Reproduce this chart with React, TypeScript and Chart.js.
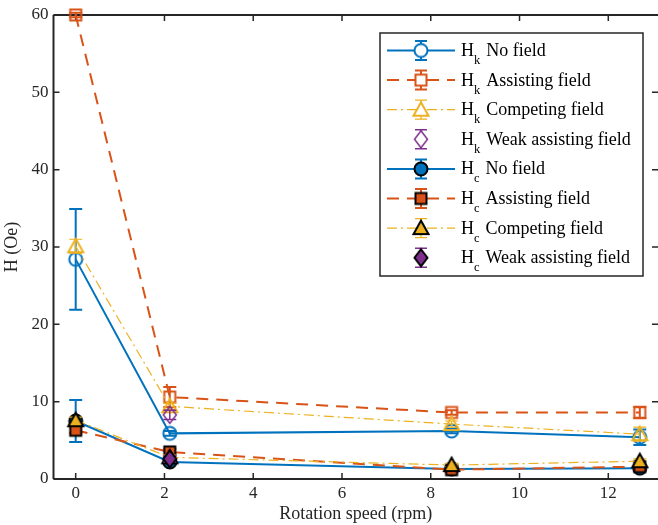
import React, { useEffect, useRef } from 'react';
import { Chart, registerables } from 'chart.js';

Chart.register(...registerables);

// ---- data ----
const rpm = [0, 2.12, 8.47, 12.71];
const xTicks = [0, 2, 4, 6, 8, 10, 12];
const yTicks = [0, 10, 20, 30, 40, 50, 60];

const hkNoField = [28.4, 5.9, 6.2, 5.4];
const hkNoFieldErr = [6.5, 0.3, 0.3, 1.0];
const hkAssisting = [60, 10.6, 8.6, 8.6];
const hkAssistingErr = [0.3, 1.3, 0.3, 0.7];
const hkCompeting = [30.1, 9.4, 7.1, 5.8];
const hkCompetingErr = [0.9, 0.4, 0.4, 0.9];
const hkWeak = [null, 8.3, null, null];
const hkWeakErr = [0, 0.6, 0, 0];
const hcNoField = [7.5, 2.2, 1.3, 1.4];
const hcNoFieldErr = [2.7, 0.3, 0.2, 0.2];
const hcAssisting = [6.3, 3.5, 1.2, 1.6];
const hcAssistingErr = [0.4, 0.4, 0.2, 0.2];
const hcCompeting = [7.6, 2.8, 1.8, 2.3];
const hcCompetingErr = [0.4, 0.3, 0.2, 0.3];
const hcWeak = [null, 2.6, null, null];
const hcWeakErr = [0, 0.4, 0, 0];

const seriesValues = [hkNoField, hkAssisting, hkCompeting, hkWeak, hcNoField, hcAssisting, hcCompeting, hcWeak];
const seriesErrors = [hkNoFieldErr, hkAssistingErr, hkCompetingErr, hkWeakErr, hcNoFieldErr, hcAssistingErr, hcCompetingErr, hcWeakErr];
const legendNames = ['No field', 'Assisting field', 'Competing field', 'Weak assisting field', 'No field', 'Assisting field', 'Competing field', 'Weak assisting field'];
const legendSubs = ['k', 'k', 'k', 'k', 'c', 'c', 'c', 'c'];
const xTitle = 'Rotation speed (rpm)';
const yTitle = 'H (Oe)';

// ---- styles ----
const BLUE = '#0072BD';
const ORANGE = '#D95319';
const YELLOW = '#EDB120';
const PURPLE = '#7E2F8E';
const AXIS = '#262626';
const FONT = "'Liberation Serif', 'Times New Roman', serif";

type Kind = 'circle' | 'square' | 'triangle' | 'diamond';
interface Style { color: string; dash: number[]; lw: number; kind: Kind; filled: boolean; line: boolean; }
const styles: Style[] = [
  { color: BLUE, dash: [], lw: 2, kind: 'circle', filled: false, line: true },
  { color: ORANGE, dash: [12, 8], lw: 2, kind: 'square', filled: false, line: true },
  { color: YELLOW, dash: [10, 4, 2, 4], lw: 1.2, kind: 'triangle', filled: false, line: true },
  { color: PURPLE, dash: [], lw: 1.5, kind: 'diamond', filled: false, line: false },
  { color: BLUE, dash: [], lw: 2, kind: 'circle', filled: true, line: true },
  { color: ORANGE, dash: [12, 8], lw: 2, kind: 'square', filled: true, line: true },
  { color: YELLOW, dash: [10, 4, 2, 4], lw: 1.2, kind: 'triangle', filled: true, line: true },
  { color: PURPLE, dash: [], lw: 1.5, kind: 'diamond', filled: true, line: false },
];

function markerPath(ctx: CanvasRenderingContext2D, kind: Kind, cx: number, cy: number) {
  ctx.beginPath();
  if (kind === 'circle') ctx.arc(cx, cy, 6.5, 0, Math.PI * 2);
  else if (kind === 'square') ctx.rect(cx - 5.5, cy - 5.5, 11, 11);
  else if (kind === 'triangle') {
    ctx.moveTo(cx, cy - 7.5); ctx.lineTo(cx + 7.5, cy + 6); ctx.lineTo(cx - 7.5, cy + 6); ctx.closePath();
  } else {
    ctx.moveTo(cx, cy - 8.5); ctx.lineTo(cx + 6.5, cy); ctx.lineTo(cx, cy + 8.5); ctx.lineTo(cx - 6.5, cy); ctx.closePath();
  }
}

function makeMarker(s: Style, legend: boolean) {
  const c = document.createElement('canvas');
  c.width = 24; c.height = 24;
  const ctx = c.getContext('2d')!;
  markerPath(ctx, s.kind, 12, 12);
  if (s.filled) { ctx.fillStyle = s.color; ctx.fill(); }
  else if (legend) { ctx.fillStyle = '#ffffff'; ctx.fill(); }
  ctx.lineWidth = s.filled ? 2 : (s.kind === 'diamond' ? 1.5 : 2);
  ctx.strokeStyle = s.filled ? '#000000' : s.color;
  ctx.stroke();
  return c;
}

const errorBarPlugin = {
  id: 'errorBars',
  beforeDatasetDraw(chart: any, args: any) {
    const ds = chart.data.datasets[args.index];
    const pts = ds.errorBars as { x: number; y: number; e: number }[];
    if (!pts) return;
    const xs = chart.scales.x, ys = chart.scales.y;
    const ctx = chart.ctx as CanvasRenderingContext2D;
    ctx.save();
    ctx.strokeStyle = ds.borderColor;
    ctx.lineWidth = ds.errLw;
    ctx.setLineDash([]);
    for (const p of pts) {
      if (!p.e) continue;
      const px = xs.getPixelForValue(p.x);
      const t = ys.getPixelForValue(p.y + p.e);
      const b = ys.getPixelForValue(p.y - p.e);
      ctx.beginPath();
      ctx.moveTo(px, t); ctx.lineTo(px, b);
      ctx.moveTo(px - 6.5, t); ctx.lineTo(px + 6.5, t);
      ctx.moveTo(px - 6.5, b); ctx.lineTo(px + 6.5, b);
      ctx.stroke();
    }
    ctx.restore();
  },
};

const axesPlugin = {
  id: 'matlabAxes',
  beforeDatasetsDraw(chart: any) {
    const { left, right, top, bottom } = chart.chartArea;
    const ctx = chart.ctx as CanvasRenderingContext2D;
    const xs = chart.scales.x, ys = chart.scales.y;
    ctx.save();
    ctx.strokeStyle = AXIS;
    ctx.lineWidth = 2;
    ctx.beginPath();
    ctx.moveTo(left, top); ctx.lineTo(right + 2, top);
    ctx.moveTo(left, top); ctx.lineTo(left, bottom);
    ctx.moveTo(left, bottom); ctx.lineTo(right + 2, bottom);
    ctx.moveTo(right + 1, top); ctx.lineTo(right + 1, bottom);
    ctx.stroke();
    ctx.lineWidth = 1.5;
    ctx.beginPath();
    for (const v of xTicks) {
      const px = xs.getPixelForValue(v);
      ctx.moveTo(px, bottom); ctx.lineTo(px, bottom - 6);
      ctx.moveTo(px, top); ctx.lineTo(px, top + 6);
    }
    for (const v of yTicks) {
      const py = ys.getPixelForValue(v);
      ctx.moveTo(left, py); ctx.lineTo(left + 6, py);
      ctx.moveTo(right, py); ctx.lineTo(right - 6, py);
    }
    ctx.stroke();
    ctx.restore();
  },
};

const legendPlugin = {
  id: 'matlabLegend',
  afterDraw(chart: any) {
    const ctx = chart.ctx as CanvasRenderingContext2D;
    const boxL = 380, boxT = 33, boxR = 643, boxB = 276;
    ctx.save();
    ctx.fillStyle = '#ffffff';
    ctx.fillRect(boxL, boxT, boxR - boxL, boxB - boxT);
    ctx.strokeStyle = AXIS;
    ctx.lineWidth = 1.5;
    ctx.strokeRect(boxL, boxT, boxR - boxL, boxB - boxT);
    const lineL = 387, lineR = 455, mx = 421;
    for (let i = 0; i < styles.length; i++) {
      const s = styles[i];
      const y = 50.5 + i * 29.6;
      if (s.line) {
        ctx.strokeStyle = s.color;
        ctx.lineWidth = s.lw;
        ctx.setLineDash(s.dash);
        ctx.beginPath();
        ctx.moveTo(lineL, y); ctx.lineTo(lineR, y);
        ctx.stroke();
        ctx.setLineDash([]);
      }
      ctx.strokeStyle = s.color;
      ctx.lineWidth = s.lw;
      ctx.beginPath();
      ctx.moveTo(mx, y - 9.5); ctx.lineTo(mx, y + 9.5);
      ctx.moveTo(mx - 6, y - 9.5); ctx.lineTo(mx + 6, y - 9.5);
      ctx.moveTo(mx - 6, y + 9.5); ctx.lineTo(mx + 6, y + 9.5);
      ctx.stroke();
      const m = makeMarker(s, true);
      ctx.drawImage(m, mx - 12, y - 12);
      // text
      ctx.fillStyle = '#000000';
      ctx.textBaseline = 'alphabetic';
      ctx.textAlign = 'left';
      ctx.font = `18px ${FONT}`;
      const hx = 461;
      ctx.fillText('H', hx, y + 5.5);
      const hw = ctx.measureText('H').width;
      ctx.font = `12.5px ${FONT}`;
      ctx.fillText(legendSubs[i], hx + hw, y + 13.5);
      const sw = ctx.measureText(legendSubs[i]).width;
      ctx.font = `18px ${FONT}`;
      ctx.fillText(legendNames[i], hx + hw + sw + 6, y + 5.5);
    }
    ctx.restore();
  },
};

export default function App() {
  const ref = useRef<HTMLCanvasElement>(null);
  useEffect(() => {
    if (!ref.current) return;
    const datasets = styles.map((s, i) => {
      const vals = seriesValues[i];
      const errs = seriesErrors[i];
      const pts: { x: number; y: number; e: number }[] = [];
      rpm.forEach((x, j) => {
        const v = vals[j];
        if (v !== null && v !== undefined) pts.push({ x, y: v as number, e: errs[j] });
      });
      return {
        label: (i < 4 ? 'Hk ' : 'Hc ') + legendNames[i],
        data: pts.map((p) => ({ x: p.x, y: p.y })),
        errorBars: pts,
        errLw: s.lw,
        showLine: s.line,
        borderColor: s.color,
        backgroundColor: s.color,
        borderWidth: s.lw,
        borderDash: s.dash,
        pointStyle: makeMarker(s, false),
        pointRadius: 8,
        pointHoverRadius: 8,
        fill: false,
        tension: 0,
        clip: false,
        order: styles.length - i,
      } as any;
    });
    const chart = new Chart(ref.current, {
      type: 'line',
      data: { datasets },
      options: {
        animation: false,
        responsive: false,
        devicePixelRatio: 1,
        events: [],
        layout: { padding: { top: 15, right: 0, left: 0, bottom: 0 }, autoPadding: false },
        plugins: { legend: { display: false }, tooltip: { enabled: false } },
        scales: {
          x: {
            type: 'linear',
            min: -0.5,
            max: 13.12,
            afterFit: (s: any) => { s.height = 46; s.paddingLeft = 0; s.paddingRight = 0; },
            afterBuildTicks: (s: any) => { s.ticks = xTicks.map((v) => ({ value: v })); },
            grid: { display: false, drawTicks: false },
            border: { display: false },
            ticks: { color: AXIS, font: { family: FONT, size: 17 }, padding: 4, maxRotation: 0, autoSkip: false },
            title: { display: true, text: xTitle, color: AXIS, font: { family: FONT, size: 18 }, padding: { top: 0, bottom: 0 } },
          },
          y: {
            type: 'linear',
            min: 0,
            max: 60,
            afterFit: (s: any) => { s.width = 53.5; s.paddingTop = 0; s.paddingBottom = 0; },
            afterBuildTicks: (s: any) => { s.ticks = yTicks.map((v) => ({ value: v })); },
            grid: { display: false, drawTicks: false },
            border: { display: false },
            ticks: { color: AXIS, font: { family: FONT, size: 17 }, padding: 5 },
            title: { display: true, text: yTitle, color: AXIS, font: { family: FONT, size: 18 }, padding: { top: 1, bottom: 0 } },
          },
        },
      },
      plugins: [axesPlugin, errorBarPlugin, legendPlugin],
    });
    return () => chart.destroy();
  }, []);
  return (
    <div style={{ position: 'absolute', left: 0, top: 0, width: 658, height: 525 }}>
      <canvas ref={ref} width={658} height={525} style={{ display: 'block', width: 658, height: 525 }} />
    </div>
  );
}
